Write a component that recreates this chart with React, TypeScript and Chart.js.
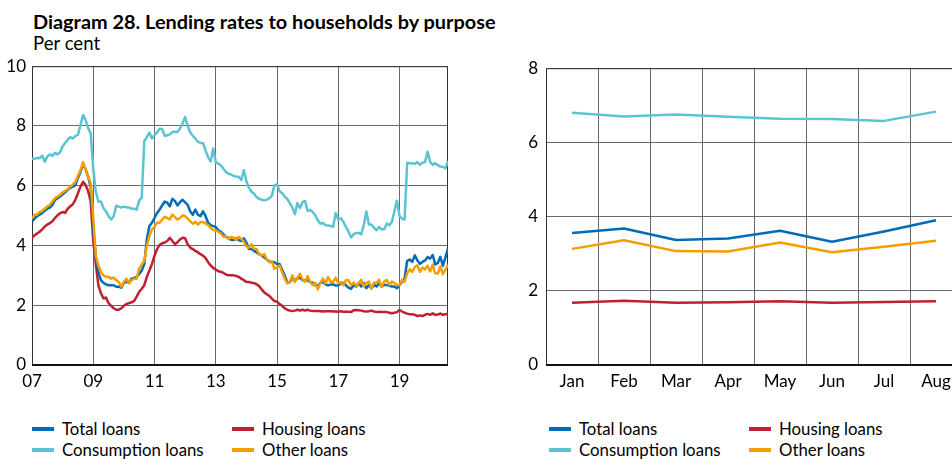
import React, { useEffect, useRef } from "react";
import { Chart, registerables } from "chart.js";

Chart.register(...registerables);

const FONT = "Lato, 'Open Sans', sans-serif";

const TITLE = "Diagram 28. Lending rates to households by purpose";
const UNIT = "Per cent";

// Left chart: monthly, Jan 2007 – Aug 2020
const yearTickLabels = ["07", "09", "11", "13", "15", "17", "19"];

const totalLoans = [
  4.81, 4.90, 4.98, 5.03, 5.09, 5.16, 5.23, 5.27, 5.36, 5.52, 5.58, 5.64,
  5.71, 5.78, 5.86, 5.93, 5.97, 6.02, 6.26, 6.46, 6.72, 6.55, 6.30, 5.97,
  4.59, 3.60, 3.11, 2.84, 2.75, 2.70, 2.67, 2.67, 2.67, 2.62, 2.62, 2.59,
  2.75, 2.78, 2.75, 2.89, 2.91, 2.95, 3.05, 3.16, 3.38, 4.21, 4.65, 4.76,
  4.92, 5.09, 5.20, 5.34, 5.47, 5.43, 5.31, 5.56, 5.49, 5.34, 5.45, 5.53,
  5.44, 5.36, 5.14, 5.03, 5.20, 5.03, 4.98, 5.14, 4.98, 4.76, 4.68, 4.65,
  4.62, 4.51, 4.46, 4.37, 4.29, 4.26, 4.19, 4.18, 4.24, 4.18, 4.15, 4.24,
  4.10, 3.88, 3.88, 3.82, 3.77, 3.71, 3.66, 3.60, 3.53, 3.47, 3.44, 3.44,
  3.38, 3.38, 3.19, 3.00, 2.77, 2.77, 2.89, 2.84, 2.90, 2.92, 2.84, 2.84,
  2.84, 2.77, 2.75, 2.67, 2.66, 2.75, 2.78, 2.70, 2.67, 2.69, 2.70, 2.66,
  2.67, 2.73, 2.75, 2.67, 2.59, 2.55, 2.66, 2.63, 2.74, 2.63, 2.74, 2.57,
  2.68, 2.57, 2.68, 2.63, 2.74, 2.63, 2.68, 2.68, 2.65, 2.63, 2.63, 2.57,
  2.68, 2.79, 2.90, 3.48, 3.53, 3.45, 3.67, 3.50, 3.39, 3.45, 3.50, 3.61,
  3.56, 3.68, 3.37, 3.41, 3.62, 3.32, 3.60, 3.90,
];

const housingLoans = [
  4.26, 4.34, 4.40, 4.46, 4.54, 4.63, 4.70, 4.75, 4.81, 4.92, 5.01, 5.08,
  5.12, 5.09, 5.23, 5.31, 5.38, 5.53, 5.75, 5.97, 6.13, 6.02, 5.82, 5.47,
  4.15, 3.38, 2.67, 2.40, 2.23, 2.26, 2.07, 1.98, 1.90, 1.85, 1.85, 1.90,
  1.98, 2.04, 2.07, 2.10, 2.14, 2.29, 2.45, 2.55, 2.67, 2.95, 3.16, 3.38,
  3.66, 3.88, 4.02, 4.07, 4.10, 4.15, 4.26, 4.15, 4.04, 4.11, 4.20, 4.26,
  4.24, 4.04, 3.93, 3.88, 3.82, 3.77, 3.71, 3.66, 3.58, 3.44, 3.33, 3.25,
  3.19, 3.14, 3.12, 3.08, 3.03, 3.00, 3.00, 3.00, 2.98, 2.95, 2.89, 2.84,
  2.78, 2.78, 2.75, 2.74, 2.70, 2.64, 2.53, 2.43, 2.37, 2.31, 2.22, 2.14,
  2.12, 2.04, 1.98, 1.90, 1.85, 1.82, 1.81, 1.82, 1.85, 1.82, 1.85, 1.82,
  1.85, 1.82, 1.81, 1.81, 1.81, 1.80, 1.79, 1.80, 1.80, 1.80, 1.79, 1.79,
  1.78, 1.80, 1.78, 1.78, 1.78, 1.77, 1.83, 1.84, 1.83, 1.82, 1.80, 1.79,
  1.80, 1.82, 1.79, 1.77, 1.78, 1.77, 1.77, 1.77, 1.75, 1.73, 1.75, 1.77,
  1.84, 1.79, 1.75, 1.72, 1.70, 1.70, 1.68, 1.64, 1.66, 1.64, 1.68, 1.71,
  1.68, 1.73, 1.68, 1.69, 1.72, 1.68, 1.70, 1.72,
];

const consumptionLoans = [
  6.90, 6.90, 6.93, 6.92, 7.01, 6.80, 6.98, 7.05, 7.00, 7.10, 7.05, 7.12,
  7.32, 7.43, 7.54, 7.63, 7.58, 7.67, 7.70, 8.03, 8.37, 8.20, 7.93, 7.75,
  6.57, 5.80, 5.47, 5.47, 5.25, 5.14, 4.98, 4.87, 4.98, 5.33, 5.30, 5.27,
  5.30, 5.28, 5.27, 5.23, 5.23, 5.20, 5.50, 5.60, 7.50, 7.62, 7.78, 7.58,
  7.70, 7.78, 7.91, 7.89, 7.67, 7.69, 7.72, 7.80, 7.81, 7.80, 7.92, 8.09,
  8.30, 8.00, 7.78, 7.67, 7.58, 7.47, 7.43, 7.43, 7.18, 6.96, 6.81, 7.25,
  6.79, 6.74, 6.68, 6.57, 6.46, 6.40, 6.37, 6.33, 6.30, 6.30, 6.19, 6.52,
  6.15, 5.93, 5.80, 5.73, 5.62, 5.56, 5.53, 5.51, 5.53, 5.58, 5.67, 6.02,
  6.04, 5.82, 5.75, 5.64, 5.56, 5.42, 5.27, 5.05, 5.42, 5.25, 5.45, 5.49,
  5.16, 5.19, 5.12, 5.01, 4.84, 4.73, 4.75, 4.68, 4.67, 4.65, 4.63, 5.09,
  4.87, 4.92, 4.79, 4.62, 4.47, 4.27, 4.37, 4.42, 4.42, 4.37, 4.68, 5.14,
  4.70, 4.70, 4.59, 4.51, 4.62, 4.54, 4.54, 4.73, 4.68, 4.79, 5.14, 5.50,
  4.98, 4.90, 4.87, 6.77, 6.75, 6.75, 6.73, 6.79, 6.70, 6.77, 6.79, 7.14,
  6.80, 6.70, 6.75, 6.69, 6.64, 6.63, 6.58, 6.83,
];

const otherLoans = [
  4.90, 5.03, 5.03, 5.12, 5.16, 5.23, 5.31, 5.36, 5.47, 5.58, 5.64, 5.69,
  5.78, 5.82, 5.89, 5.97, 6.04, 6.13, 6.33, 6.52, 6.79, 6.55, 6.30, 6.10,
  4.92, 3.66, 3.33, 3.11, 3.00, 2.95, 2.95, 2.89, 2.92, 2.84, 2.78, 2.62,
  2.78, 2.89, 2.73, 2.84, 2.89, 2.89, 3.22, 3.36, 3.49, 3.99, 4.32, 4.54,
  4.62, 4.76, 4.76, 4.86, 4.96, 4.92, 4.87, 5.03, 4.95, 4.87, 4.92, 5.01,
  4.98, 4.90, 4.81, 4.73, 4.79, 4.70, 4.78, 4.79, 4.74, 4.68, 4.59, 4.52,
  4.51, 4.46, 4.40, 4.29, 4.32, 4.21, 4.29, 4.26, 4.18, 4.29, 4.22, 4.13,
  3.97, 3.93, 4.04, 3.88, 3.88, 3.71, 3.66, 3.71, 3.53, 3.44, 3.47, 3.22,
  3.27, 3.33, 3.11, 2.89, 2.73, 2.78, 3.00, 2.78, 2.92, 3.05, 2.87, 2.78,
  2.98, 2.78, 2.67, 2.75, 2.53, 2.75, 2.89, 2.73, 2.95, 2.78, 2.78, 2.92,
  2.73, 2.78, 2.67, 2.84, 2.84, 2.67, 2.76, 2.65, 2.74, 2.85, 2.63, 2.74,
  2.79, 2.57, 2.76, 2.74, 2.85, 2.61, 2.79, 2.85, 2.68, 2.79, 2.74, 2.68,
  2.68, 2.85, 2.79, 3.07, 3.20, 3.12, 3.28, 3.34, 3.12, 3.26, 3.20, 3.32,
  3.13, 3.36, 3.07, 3.06, 3.30, 3.04, 3.19, 3.35,
];

// Right chart: 2020, Jan – Aug
const monthLabels = ["Jan", "Feb", "Mar", "Apr", "May", "Jun", "Jul", "Aug"];
const totalLoans2020 = [3.56, 3.68, 3.37, 3.41, 3.62, 3.32, 3.60, 3.90];
const housingLoans2020 = [1.68, 1.73, 1.68, 1.69, 1.72, 1.68, 1.70, 1.72];
const consumptionLoans2020 = [6.80, 6.70, 6.75, 6.69, 6.64, 6.63, 6.58, 6.83];
const otherLoans2020 = [3.13, 3.36, 3.07, 3.06, 3.30, 3.04, 3.19, 3.35];

const seriesNames = ["Total loans", "Housing loans", "Consumption loans", "Other loans"];

const BLUE = "#006bb6";
const RED = "#c0202f";
const CYAN = "#5cc3d3";
const ORANGE = "#f59e00";
const seriesColors = [BLUE, RED, CYAN, ORANGE];

const framePlugin = {
  id: "frame",
  beforeDatasetsDraw(chart: any) {
    const { ctx, chartArea: a } = chart;
    ctx.save();
    ctx.strokeStyle = "#333";
    ctx.lineWidth = 1;
    ctx.beginPath();
    ctx.moveTo(a.left + 0.5, a.bottom);
    ctx.lineTo(a.left + 0.5, a.top + 0.5);
    ctx.lineTo(a.right - 0.5, a.top + 0.5);
    ctx.lineTo(a.right - 0.5, a.bottom);
    ctx.stroke();
    ctx.strokeStyle = "#111";
    ctx.lineWidth = 2;
    ctx.beginPath();
    ctx.moveTo(a.left, a.bottom);
    ctx.lineTo(a.right, a.bottom);
    ctx.stroke();
    ctx.restore();
  },
};

const lineStyle = (color: string) => ({
  borderColor: color,
  backgroundColor: color,
  borderWidth: 2.5,
  pointRadius: 0,
  tension: 0,
  borderJoinStyle: "round" as const,
  fill: false,
});

const tickFont = { family: FONT, size: 17 };

function LeftChart() {
  const ref = useRef<HTMLCanvasElement>(null);
  useEffect(() => {
    const toXY = (arr: number[]) => arr.map((y, i) => ({ x: i, y }));
    const chart = new Chart(ref.current!, {
      type: "line",
      data: {
        datasets: [
          { label: seriesNames[3], data: toXY(otherLoans), ...lineStyle(ORANGE) },
          { label: seriesNames[0], data: toXY(totalLoans), ...lineStyle(BLUE) },
          { label: seriesNames[1], data: toXY(housingLoans), ...lineStyle(RED) },
          { label: seriesNames[2], data: toXY(consumptionLoans), ...lineStyle(CYAN) },
        ],
      },
      options: {
        responsive: false,
        animation: false,
        events: [],
        layout: { padding: { top: 13, right: 12, left: 0, bottom: 0 } },
        plugins: { legend: { display: false }, tooltip: { enabled: false } },
        scales: {
          x: {
            type: "linear",
            min: 0,
            max: totalLoans.length - 1,
            border: { display: false },
            grid: { color: "#6a6a6a", lineWidth: 1, drawTicks: false },
            ticks: {
              stepSize: 24,
              includeBounds: false,
              autoSkip: false,
              maxRotation: 0,
              padding: 6,
              color: "#000",
              font: tickFont,
              callback: (v: any) => yearTickLabels[Math.round(Number(v) / 24)] ?? "",
            },
            afterFit: (s: any) => { s.height = 25; },
          },
          y: {
            min: 0,
            max: 10,
            border: { display: false },
            grid: { color: "#6a6a6a", lineWidth: 1, drawTicks: false },
            ticks: { stepSize: 2, padding: 6, color: "#000", font: tickFont },
            afterFit: (s: any) => { s.width = 32; },
          },
        },
      },
      plugins: [framePlugin],
    });
    return () => chart.destroy();
  }, []);
  return <canvas ref={ref} width={460} height={340} style={{ width: 460, height: 340, display: "block" }} />;
}

function RightChart() {
  const ref = useRef<HTMLCanvasElement>(null);
  useEffect(() => {
    const chart = new Chart(ref.current!, {
      type: "line",
      data: {
        labels: monthLabels,
        datasets: [
          { label: seriesNames[3], data: otherLoans2020, ...lineStyle(ORANGE) },
          { label: seriesNames[0], data: totalLoans2020, ...lineStyle(BLUE) },
          { label: seriesNames[1], data: housingLoans2020, ...lineStyle(RED) },
          { label: seriesNames[2], data: consumptionLoans2020, ...lineStyle(CYAN) },
        ],
      },
      options: {
        responsive: false,
        animation: false,
        events: [],
        layout: { padding: { top: 13, right: 13, left: 0, bottom: 0 } },
        plugins: { legend: { display: false }, tooltip: { enabled: false } },
        scales: {
          x: {
            type: "category",
            offset: true,
            border: { display: false },
            grid: { offset: true, color: "#6a6a6a", lineWidth: 1, drawTicks: false },
            ticks: { padding: 6, color: "#000", font: tickFont, autoSkip: false, maxRotation: 0 },
            afterFit: (s: any) => { s.height = 25; },
          },
          y: {
            min: 0,
            max: 8,
            border: { display: false },
            grid: { color: "#6a6a6a", lineWidth: 1, drawTicks: false },
            ticks: { stepSize: 2, padding: 8, color: "#000", font: tickFont },
            afterFit: (s: any) => { s.width = 41; },
          },
        },
      },
      plugins: [framePlugin],
    });
    return () => chart.destroy();
  }, []);
  return <canvas ref={ref} width={470} height={340} style={{ width: 470, height: 340, display: "block" }} />;
}

function Legend({ left }: { left: number }) {
  const order = [0, 1, 2, 3];
  return (
    <>
      {order.map((k) => {
        const col = k % 2;
        const row = Math.floor(k / 2);
        return (
          <div
            key={k}
            style={{
              position: "absolute",
              left: left + col * 200,
              top: 419 + row * 21,
              height: 20,
              display: "flex",
              alignItems: "center",
              whiteSpace: "nowrap",
            }}
          >
            <div style={{ width: 22, height: 4, background: seriesColors[k], marginRight: 8 }} />
            <span style={{ fontFamily: FONT, fontSize: 16.8, color: "#000", lineHeight: "20px" }}>{seriesNames[k]}</span>
          </div>
        );
      })}
    </>
  );
}

export default function App() {
  return (
    <div
      style={{
        position: "fixed",
        left: 0,
        top: 0,
        width: 952,
        height: 459,
        overflow: "hidden",
        background: "#fff",
      }}
    >
      <div
        style={{
          position: "absolute",
          left: 33,
          top: 11,
          fontFamily: FONT,
          fontWeight: 700,
          fontSize: 19.9,
          lineHeight: "20px",
          color: "#000",
          whiteSpace: "nowrap",
        }}
      >
        {TITLE}
      </div>
      <div
        style={{
          position: "absolute",
          left: 33,
          top: 33,
          fontFamily: FONT,
          fontSize: 18.6,
          lineHeight: "20px",
          color: "#000",
          whiteSpace: "nowrap",
        }}
      >
        {UNIT}
      </div>
      <div style={{ position: "absolute", left: 0, top: 50 }}>
        <LeftChart />
      </div>
      <div style={{ position: "absolute", left: 505, top: 50 }}>
        <RightChart />
      </div>
      <Legend left={32} />
      <Legend left={549} />
    </div>
  );
}
